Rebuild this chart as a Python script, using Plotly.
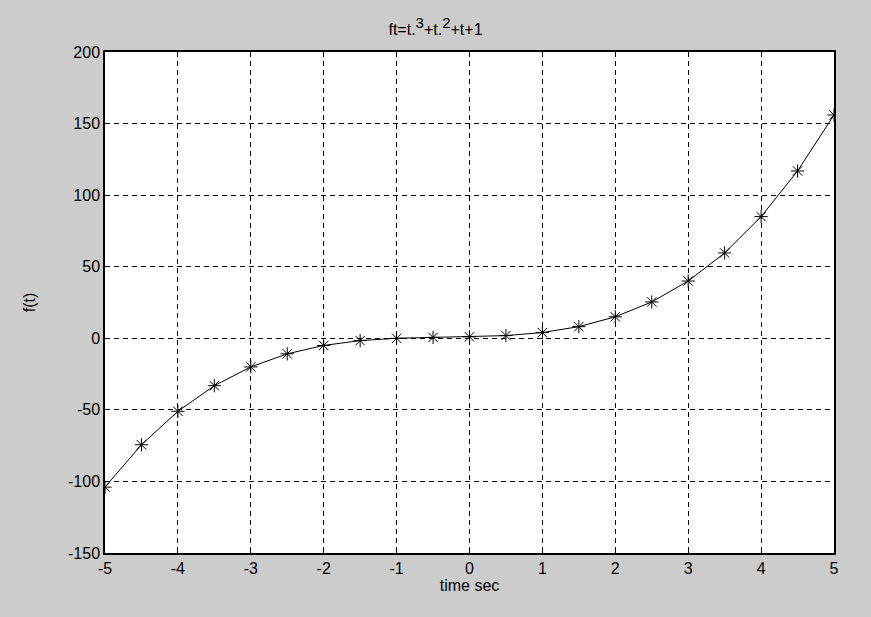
import plotly.graph_objects as go

t = [-5, -4.5, -4, -3.5, -3, -2.5, -2, -1.5, -1, -0.5, 0, 0.5, 1, 1.5, 2, 2.5, 3, 3.5, 4, 4.5, 5]
ft = [-104, -74.375, -51, -33.125, -20, -10.875, -5, -1.625, 0, 0.625, 1, 1.875, 4, 8.125,
      15, 25.375, 40, 59.625, 85, 116.875, 156]
xticks = [-5, -4, -3, -2, -1, 0, 1, 2, 3, 4, 5]
xlabels = ["-5", "-4", "-3", "-2", "-1", "0", "1", "2", "3", "4", "5"]
yticks = [-150, -100, -50, 0, 50, 100, 150, 200]
ylabels = ["-150", "-100", "-50", "0", "50", "100", "150", "200"]

FONT = "Liberation Sans, Arial"

fig = go.Figure()
fig.add_trace(go.Scatter(
    x=t, y=ft, mode="lines+markers",
    line=dict(color="black", width=1),
    marker=dict(symbol="asterisk-open", size=11, color="black", line=dict(color="black", width=1)),
    showlegend=False,
))

axis_common = dict(
    showline=True, linecolor="black", linewidth=1.5, mirror=True,
    showgrid=True, gridcolor="black", griddash="5px,4px", gridwidth=1,
    ticks="inside", ticklen=5, tickcolor="black",
    zeroline=False,
    tickfont=dict(family=FONT, size=16, color="black"),
)

title_text = ("ft=t.<sup><span style='font-size:15px'>3</span></sup>"
              "+t.<sup><span style='font-size:15px'>2</span></sup>+t+1")

fig.update_layout(
    width=871, height=617,
    paper_bgcolor="#cccccc", plot_bgcolor="white",
    margin=dict(l=105, r=37, t=52, b=64),
    title=dict(text=title_text, x=0.5, xanchor="center",
               y=0.952, yanchor="middle",
               font=dict(family=FONT, size=16, color="black")),
    xaxis=dict(range=[-5, 5], tickvals=xticks, ticktext=xlabels,
               title=dict(text="time sec", standoff=0,
                          font=dict(family=FONT, size=16, color="black")),
               **axis_common),
    yaxis=dict(range=[-150, 200], tickvals=yticks, ticktext=ylabels,
               title=dict(text="f(t)", standoff=28,
                          font=dict(family=FONT, size=16, color="black")),
               **axis_common),
)

fig.write_html("out.html", config={"displayModeBar": False},
               post_script="document.body.style.margin='0';document.body.style.overflow='hidden';")
